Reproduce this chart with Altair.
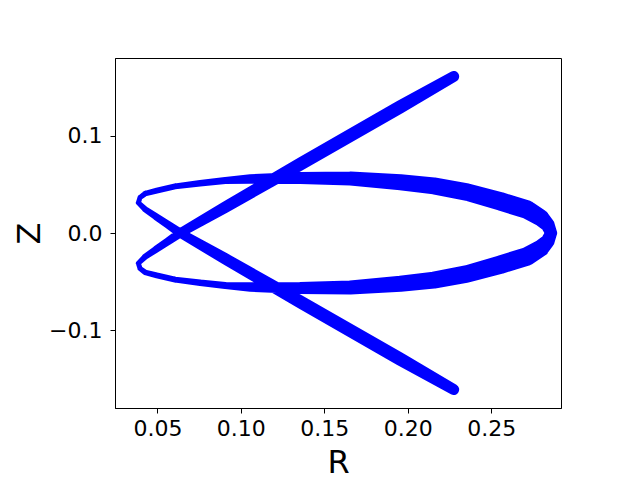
import altair as alt
import pandas as pd

# Orbit trace in the R-Z plane (centre line of the blue band)
R = [0.2275, 0.1956, 0.1356, 0.0906, 0.0636, 0.0564, 0.0492, 0.0426, 0.0386,
     0.0396, 0.0426, 0.0496, 0.0606, 0.0756, 0.0906, 0.1056, 0.1356, 0.1656,
     0.1956, 0.2156, 0.2356, 0.2556, 0.2716, 0.2796, 0.2838, 0.2859,
     0.2838, 0.2796, 0.2716, 0.2556, 0.2356, 0.2156, 0.1956, 0.1656, 0.1356, 0.1056,
     0.0906, 0.0756, 0.0606, 0.0496, 0.0426, 0.0396, 0.0386,
     0.0426, 0.0492, 0.0564, 0.0636, 0.0906, 0.1356, 0.1956, 0.2275]
Z = [0.1606, 0.1295, 0.0706, 0.0265, 0.0000, -0.0085, -0.0167, -0.0244, -0.0311,
     -0.0365, -0.0403, -0.0434, -0.0478, -0.0511, -0.0539, -0.0554, -0.0564, -0.0559,
     -0.0521, -0.0483, -0.0419, -0.0324, -0.0239, -0.0157, -0.0085, 0.0000,
     0.0085, 0.0157, 0.0239, 0.0324, 0.0419, 0.0483, 0.0521, 0.0559, 0.0564, 0.0554,
     0.0539, 0.0511, 0.0478, 0.0434, 0.0403, 0.0365, 0.0311,
     0.0244, 0.0167, 0.0085, 0.0000, -0.0265, -0.0706, -0.1295, -0.1606]
# spread of the many overlapping orbit passes (in R units)
SPREAD = [0.0066, 0.0078, 0.0078, 0.0069, 0.0054, 0.0048, 0.0042, 0.0036, 0.0030,
          0.0030, 0.0033, 0.0036, 0.0036, 0.0039, 0.0042, 0.0057, 0.0072, 0.0084,
          0.0096, 0.0102, 0.0105, 0.0111, 0.0111, 0.0102, 0.0084, 0.0072,
          0.0084, 0.0102, 0.0111, 0.0111, 0.0105, 0.0102, 0.0096, 0.0084, 0.0072, 0.0057,
          0.0042, 0.0039, 0.0036, 0.0036, 0.0033, 0.0030, 0.0030,
          0.0036, 0.0042, 0.0048, 0.0054, 0.0069, 0.0078, 0.0078, 0.0066]

R_TICKS = [0.05, 0.10, 0.15, 0.20, 0.25]
Z_TICKS = [-0.1, 0.0, 0.1]

df = pd.DataFrame({"R": R, "Z": Z, "spread": SPREAD, "step": list(range(len(R)))})

W, H = 446, 350

chart = alt.Chart(df).mark_trail(color="#0000ff").encode(
    x=alt.X("R:Q",
            scale=alt.Scale(domain=[0.0246, 0.2918], nice=False, zero=False),
            axis=alt.Axis(values=R_TICKS, format=".2f", title="R",
                          titleX=W / 2, titleY=64, titleBaseline="alphabetic",
                          titleAlign="center", labelPadding=5)),
    y=alt.Y("Z:Q",
            scale=alt.Scale(domain=[-0.1795, 0.1795], nice=False, zero=False),
            axis=alt.Axis(values=Z_TICKS, format=".1f", title="Z",
                          titleX=-76, titleY=H / 2, titleBaseline="alphabetic",
                          titleAlign="center", labelPadding=8)),
    size=alt.Size("spread:Q", scale=alt.Scale(domain=[0, 0.012], range=[0, 20]),
                  legend=None),
    order=alt.Order("step:Q"),
).properties(
    width=W, height=H,
    padding={"left": 107, "top": 50, "right": 50, "bottom": 72},
    autosize="none",
).configure_view(
    stroke="black", strokeWidth=1
).configure_axis(
    grid=False,
    domainColor="black", domainWidth=1,
    tickColor="black", tickWidth=1, tickSize=5,
    labelColor="black", labelFont="DejaVu Sans", labelFontSize=22,
    titleColor="black", titleFont="DejaVu Sans", titleFontSize=32,
    titleFontWeight="normal",
)

chart.save("out.html", embed_options={"renderer": "svg", "actions": False})
